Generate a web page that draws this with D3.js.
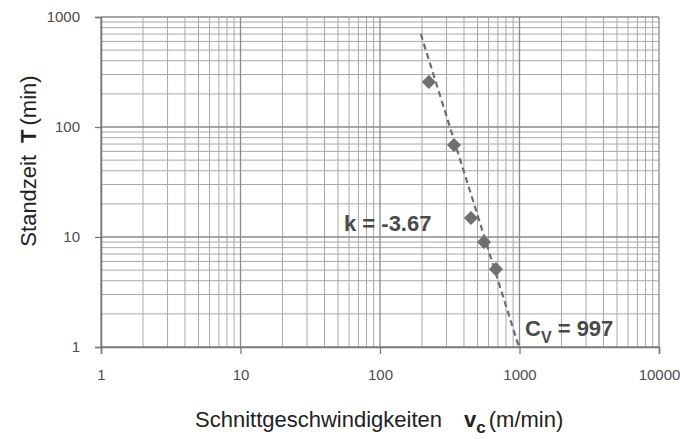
<!DOCTYPE html>
<html>
<head>
<meta charset="utf-8">
<script src="https://cdn.jsdelivr.net/npm/d3@7"></script>
<style>
  body { margin: 0; background: #fff; }
  text { font-family: "Liberation Sans", Arial, sans-serif; }
</style>
</head>
<body>
<div id="chart"></div>
<script>
// measured points (v in m/min, T in min)
var speeds = [224, 339, 449, 557, 678]
var toolLife = [257, 68.6, 14.9, 9.0, 5.1]

// trend line ends as drawn
var trendSpeed = [196, 990]
var trendLife = [700, 1]

var xTicks = [1, 10, 100, 1000, 10000]
var yTicks = [1, 10, 100, 1000]

var svgWidth = 680
var svgHeight = 439

var margin = { top: 17, right: 21, bottom: 92, left: 101 }
var width = svgWidth - margin.left - margin.right
var height = svgHeight - margin.top - margin.bottom

var svg = d3.select("#chart")
  .append("svg")
  .attr("width", svgWidth)
  .attr("height", svgHeight)

var chartGroup = svg.append("g")
  .attr("transform", `translate(${margin.left}, ${margin.top})`)

var xScale = d3.scaleLog().domain([1, 10000]).range([0, width])
var yScale = d3.scaleLog().domain([1, 1000]).range([height, 0])

// minor grid: 1..9 in every decade
var xMinor = []
for (var d = 1; d < 10000; d *= 10) for (var m = 2; m < 10; m++) xMinor.push(d * m)
var yMinor = []
for (var d = 1; d < 1000; d *= 10) for (var m = 2; m < 10; m++) yMinor.push(d * m)

chartGroup.append("g").selectAll("line")
  .data(xMinor).enter().append("line")
  .attr("x1", d => xScale(d)).attr("x2", d => xScale(d))
  .attr("y1", 0).attr("y2", height)
  .attr("stroke", "#a8a8a8").attr("stroke-width", 1)

chartGroup.append("g").selectAll("line")
  .data(yMinor).enter().append("line")
  .attr("y1", d => yScale(d)).attr("y2", d => yScale(d))
  .attr("x1", 0).attr("x2", width)
  .attr("stroke", "#a8a8a8").attr("stroke-width", 1)

// major grid
chartGroup.append("g").selectAll("line")
  .data(xTicks).enter().append("line")
  .attr("x1", d => xScale(d)).attr("x2", d => xScale(d))
  .attr("y1", 0).attr("y2", height)
  .attr("stroke", "#8a8a8a").attr("stroke-width", 1.3)

chartGroup.append("g").selectAll("line")
  .data(yTicks).enter().append("line")
  .attr("y1", d => yScale(d)).attr("y2", d => yScale(d))
  .attr("x1", 0).attr("x2", width)
  .attr("stroke", "#8a8a8a").attr("stroke-width", 1.3)

// axes
var bottomAxis = d3.axisBottom(xScale).tickValues(xTicks).tickFormat(d3.format("d"))
  .tickSize(7).tickPadding(15)
var leftAxis = d3.axisLeft(yScale).tickValues(yTicks).tickFormat(d3.format("d"))
  .tickSize(6).tickPadding(15)

var xAxisG = chartGroup.append("g")
  .attr("transform", `translate(0, ${height})`)
  .call(bottomAxis)
var yAxisG = chartGroup.append("g").call(leftAxis)

;[xAxisG, yAxisG].forEach(function(g) {
  g.select(".domain").attr("stroke", "#777").attr("stroke-width", 1.5)
  g.selectAll(".tick line").attr("stroke", "#777").attr("stroke-width", 1.3)
  g.selectAll(".tick text").attr("fill", "#4d4d4d").style("font-size", "15px")
    .style("font-family", "'Liberation Sans', Arial, sans-serif")
})

// trend line
var trend = trendSpeed.map((v, i) => [v, trendLife[i]])
chartGroup.append("path")
  .datum(trend)
  .attr("d", d3.line().x(d => xScale(d[0])).y(d => yScale(d[1])))
  .attr("fill", "none")
  .attr("stroke", "#6e6e6e")
  .attr("stroke-width", 2.2)
  .attr("stroke-dasharray", "6,4")

// points
var points = speeds.map((v, i) => ({ v: v, t: toolLife[i] }))
chartGroup.selectAll(".pt")
  .data(points).enter().append("path")
  .attr("class", "pt")
  .attr("d", d3.symbol().type(d3.symbolSquare).size(100))
  .attr("transform", d => `translate(${xScale(d.v)}, ${yScale(d.t)}) rotate(45)`)
  .attr("fill", "#707070")

// annotations
chartGroup.append("text")
  .attr("x", 243).attr("y", 214)
  .attr("fill", "#4a4a4a")
  .style("font-size", "22px").style("font-weight", "bold")
  .text("k = -3.67")

var cv = chartGroup.append("text")
  .attr("x", 424).attr("y", 319)
  .attr("fill", "#4a4a4a")
  .style("font-size", "22px").style("font-weight", "bold")
cv.append("tspan").text("C")
cv.append("tspan").attr("dy", 7).style("font-size", "16px").text("V")
cv.append("tspan").attr("dy", -7).text(" = 997")

// axis titles
var xt = svg.append("text")
  .attr("x", 195).attr("y", 427)
  .attr("fill", "#222")
  .style("font-size", "22px")
xt.append("tspan").text("Schnittgeschwindigkeiten")
xt.append("tspan").attr("dx", 22).style("font-weight", "bold").text("v")
xt.append("tspan").attr("dy", 6).style("font-weight", "bold").style("font-size", "17px").text("c")
xt.append("tspan").attr("dy", -6).attr("dx", 3).text("(m/min)")

var yt = svg.append("text")
  .attr("transform", "translate(36, 161) rotate(-90)")
  .attr("text-anchor", "middle")
  .attr("fill", "#222")
  .style("font-size", "22px")
yt.append("tspan").text("Standzeit")
yt.append("tspan").attr("dx", 12).style("font-weight", "bold").text("T")
yt.append("tspan").attr("dx", 4).text("(min)")
</script>
</body>
</html>
